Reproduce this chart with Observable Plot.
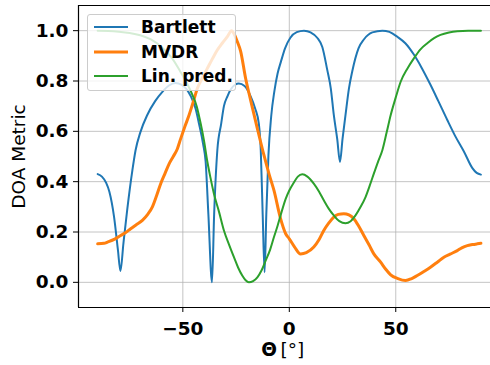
<!DOCTYPE html>
<html>
<head>
<meta charset="utf-8">
<script src="https://cdn.jsdelivr.net/npm/d3@7"></script>
<script src="https://cdn.jsdelivr.net/npm/@observablehq/plot@0.6"></script>
<style>
  html, body { margin: 0; padding: 0; background: white; }
  #wrap { position: relative; width: 490px; height: 365px; overflow: hidden; font-family: "DejaVu Sans", sans-serif; }
  #legend { position: absolute; left: 87px; top: 14px; width: 149px; height: 77px;
    background: rgba(255,255,255,0.8); border: 1px solid #cccccc; border-radius: 3px; box-sizing: border-box; }
  .row { position: absolute; left: 0; height: 20px; width: 148px; }
  .row svg { position: absolute; left: 5px; top: 0; }
  .row span { position: absolute; left: 53px; top: 0; line-height: 20px; font-size: 17px; font-weight: bold; color: black; white-space: nowrap; }
</style>
</head>
<body>
<div id="wrap"></div>
<script>
// Series names and colours
const seriesNames = ["Bartlett", "MVDR", "Lin. pred."];
const seriesColors = ["#1f77b4", "#ff7f0e", "#2ca02c"];

// Tick values
const xTicks = [-50, 0, 50];
const yTicks = [0.0, 0.2, 0.4, 0.6, 0.8, 1.0];

// Bartlett
const bartlettTheta = [-90,-88,-86,-84.5,-82.3,-80.5,-79.3,-77.9,-76.1,-73.7,-72.2,-70,-66.7,-63,-59.6,-56.5,-53.5,-50.5,-48,-46.3,-44,-42.4,-40.5,-39.3,-38,-36.3,-35.3,-33.8,-32,-30.7,-29,-27.6,-25.5,-23.7,-21,-18.2,-16,-14.3,-13.4,-12.5,-11.6,-10.8,-9.8,-8.5,-7,-5.5,-4,-2,0.5,3.5,6.9,10,13.1,15.5,17.8,19.5,20.9,22.5,23.8,25,26.4,28,29.6,32.5,35,39,43.7,47,50.7,54.5,58.5,62,66.3,70,74.2,78,82,85.9,88,90];
const bartlettValue = [0.43,0.42,0.395,0.36,0.26,0.13,0.045,0.155,0.29,0.445,0.525,0.595,0.665,0.72,0.757,0.782,0.792,0.785,0.765,0.74,0.69,0.63,0.55,0.48,0.27,0.0,0.27,0.525,0.63,0.70,0.74,0.765,0.785,0.79,0.78,0.74,0.69,0.63,0.525,0.27,0.04,0.27,0.505,0.66,0.76,0.83,0.875,0.93,0.972,0.994,1.0,0.993,0.972,0.935,0.845,0.77,0.665,0.57,0.478,0.57,0.665,0.77,0.84,0.93,0.965,0.993,1.0,0.995,0.976,0.95,0.905,0.855,0.785,0.72,0.645,0.58,0.52,0.455,0.435,0.428];

// MVDR
const mvdrTheta = [-90,-87,-85.4,-82,-79.2,-77,-74.5,-72,-69,-66.5,-64.3,-62.3,-60.4,-58.5,-56.5,-54.5,-52.6,-51,-49,-47.1,-45,-43.2,-41,-38.5,-36,-33.8,-31.5,-29.1,-27.1,-25.8,-24.4,-22.9,-20.5,-18.2,-15,-11.9,-9.5,-7.2,-4.1,-1.7,0,2.5,5.3,8,11.5,14,16.2,18.5,20.9,23,25.6,28,30.3,32.5,35,37.5,39.7,42.9,45.2,47.6,51,54.6,57.5,60.1,63,66.3,69.5,72.6,75.5,78.9,81,83.6,86,88.3,90];
const mvdrValue = [0.153,0.155,0.16,0.172,0.186,0.197,0.213,0.228,0.246,0.27,0.30,0.345,0.392,0.43,0.47,0.50,0.53,0.571,0.62,0.664,0.72,0.77,0.81,0.85,0.89,0.923,0.95,0.976,1.0,0.985,0.956,0.92,0.81,0.725,0.611,0.505,0.43,0.365,0.253,0.193,0.173,0.14,0.113,0.118,0.14,0.17,0.206,0.235,0.259,0.27,0.273,0.268,0.253,0.225,0.186,0.148,0.113,0.08,0.053,0.03,0.015,0.007,0.015,0.027,0.042,0.06,0.08,0.1,0.112,0.126,0.137,0.146,0.15,0.153,0.155];

// Linear prediction
const linTheta = [-90,-85,-80,-75,-70,-65,-60,-55,-51,-48,-45.5,-43.5,-41.6,-40,-38.5,-37,-35.4,-33,-30.7,-28.3,-26,-24,-22.1,-20.5,-19,-17,-15,-13,-11.1,-9,-7.2,-5.5,-4.1,-1.7,0,2,4,6.1,8.5,11.5,14,16.2,18.5,20.9,23.5,26.4,28.8,31.1,33.5,35.8,37.8,39.7,41.7,43.7,45.7,47.6,50,52.3,55.5,58.5,61.5,64.8,68,71,75,78.9,84,90];
const linValue = [1.0,0.999,0.996,0.991,0.982,0.965,0.935,0.89,0.835,0.79,0.745,0.70,0.63,0.56,0.48,0.415,0.352,0.28,0.206,0.15,0.1,0.058,0.027,0.008,0.0,0.005,0.02,0.048,0.086,0.13,0.18,0.225,0.266,0.332,0.365,0.395,0.42,0.429,0.42,0.392,0.36,0.326,0.293,0.266,0.243,0.235,0.243,0.266,0.30,0.339,0.385,0.432,0.48,0.525,0.595,0.664,0.735,0.797,0.85,0.89,0.925,0.95,0.97,0.983,0.993,0.998,1.0,1.0];

const toRows = (t, v) => t.map((d, i) => ({theta: d, value: v[i]}));
const bartlett = toRows(bartlettTheta, bartlettValue);
const mvdr = toRows(mvdrTheta, mvdrValue);
const lin = toRows(linTheta, linValue);

const minus = d => (d < 0 ? "\u2212" + Math.abs(d) : String(d));
const FS = 18.5;

const chart = Plot.plot({
  width: 490,
  height: 365,
  marginLeft: 78,
  marginTop: 5,
  marginBottom: 58,
  marginRight: 0,
  x: {domain: [-99, 99], range: [78, 499.6]},
  y: {domain: [-0.1, 1.1]},
  style: {fontFamily: "DejaVu Sans", fontSize: FS + "px", background: "white", overflow: "hidden"},
  marks: [
    Plot.gridX(xTicks, {stroke: "#b0b0b0", strokeOpacity: 0.75, strokeWidth: 1}),
    Plot.gridY(yTicks, {stroke: "#b0b0b0", strokeOpacity: 0.75, strokeWidth: 1}),
    Plot.line(bartlett, {x: "theta", y: "value", stroke: seriesColors[0], strokeWidth: 2, curve: "monotone-x"}),
    Plot.line(mvdr, {x: "theta", y: "value", stroke: seriesColors[1], strokeWidth: 3, curve: "monotone-x"}),
    Plot.line(lin, {x: "theta", y: "value", stroke: seriesColors[2], strokeWidth: 2, curve: "monotone-x"}),
    Plot.ruleY([-0.1], {stroke: "black", strokeWidth: 1.2}),
    Plot.ruleY([1.1], {stroke: "black", strokeWidth: 1.2}),
    Plot.ruleX([-99], {stroke: "black", strokeWidth: 1.2}),
    Plot.axisX({ticks: xTicks, tickSize: 5, tickPadding: 9, tickFormat: minus, fontWeight: "bold", fontSize: FS, label: null}),
    Plot.axisY({ticks: yTicks, tickSize: 5, tickPadding: 5, tickFormat: d3.format(".1f"), fontWeight: "bold", fontSize: FS, label: null}),
    Plot.text(["DOA Metric"], {frameAnchor: "left", rotate: -90, dx: -59, fontSize: FS, textAnchor: "middle"}),
    Plot.text(["\u0398"], {frameAnchor: "bottom", dx: -15.5, dy: 48, fontSize: FS, fontWeight: "bold", textAnchor: "middle"}),
    Plot.text(["[\u00b0]"], {frameAnchor: "bottom", dx: -4, dy: 48, fontSize: FS, textAnchor: "start"})
  ]
});

const wrap = document.getElementById("wrap");
wrap.appendChild(chart);

// Legend
const legend = document.createElement("div");
legend.id = "legend";
const rowTops = [2, 27, 51];
seriesNames.forEach((name, i) => {
  const row = document.createElement("div");
  row.className = "row";
  row.style.top = rowTops[i] + "px";
  row.innerHTML = `<svg width="36" height="20"><line x1="1" x2="35" y1="10" y2="10" stroke="${seriesColors[i]}" stroke-width="${i === 1 ? 3 : 2}"/></svg><span>${name}</span>`;
  legend.appendChild(row);
});
wrap.appendChild(legend);
</script>
</body>
</html>
